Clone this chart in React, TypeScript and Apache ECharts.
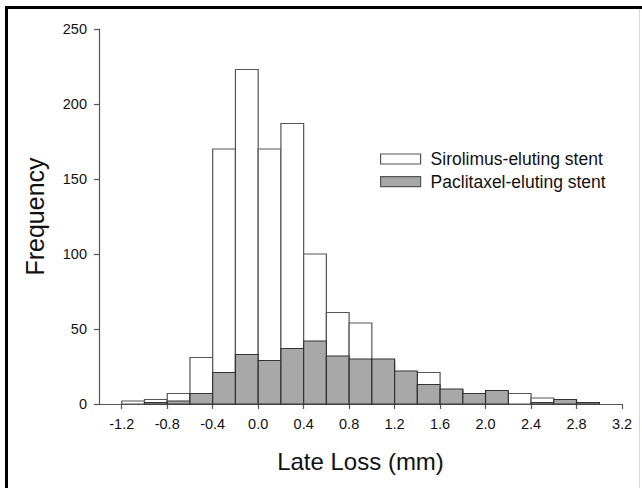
import React, { useEffect, useRef } from "react";
import * as echarts from "echarts";

// Histogram bins (left edge, width 0.2 mm)
const binStarts = [-1.2, -1.0, -0.8, -0.6, -0.4, -0.2, 0.0, 0.2, 0.4, 0.6, 0.8, 1.0, 1.2, 1.4, 1.6, 1.8, 2.0, 2.2, 2.4, 2.6, 2.8, 3.0];
const binEnds = [-1.0, -0.8, -0.6, -0.4, -0.2, 0.0, 0.2, 0.4, 0.6, 0.8, 1.0, 1.2, 1.4, 1.6, 1.8, 2.0, 2.2, 2.4, 2.6, 2.8, 3.0, 3.2];
const sirolimus = [2, 3, 7, 31, 170, 223, 170, 187, 100, 61, 54, 28, 20, 21, 9, 6, 8, 7, 4, 2, 1, 0];
const paclitaxel = [0, 1, 2, 7, 21, 33, 29, 37, 42, 32, 30, 30, 22, 13, 10, 7, 9, 0, 1, 3, 1, 0];
const xTicks = [-1.2, -0.8, -0.4, 0.0, 0.4, 0.8, 1.2, 1.6, 2.0, 2.4, 2.8, 3.2];
const seriesNames = ["Sirolimus-eluting stent", "Paclitaxel-eluting stent"];

const FONT = "Arial, 'Liberation Sans', Helvetica, sans-serif";

function makeData(values: number[]) {
  return values.map((v, i) => [binStarts[i], binEnds[i], v]);
}

function barRenderer(fill: string, stroke: string) {
  return (_params: any, api: any) => {
    const x0 = api.value(0);
    const x1 = api.value(1);
    const v = api.value(2);
    if (!v) return null;
    const p0 = api.coord([x0, v]);
    const p1 = api.coord([x1, 0]);
    return {
      type: "rect",
      shape: { x: p0[0], y: p0[1], width: p1[0] - p0[0], height: p1[1] - p0[1] },
      style: { fill, stroke, lineWidth: 1.2 },
    };
  };
}

export default function App() {
  const ref = useRef<HTMLDivElement>(null);
  useEffect(() => {
    if (!ref.current) return;
    const chart = echarts.init(ref.current, null, { renderer: "svg" });
    chart.setOption({
      animation: false,
      backgroundColor: "#ffffff",
      grid: { left: 99, right: 20, top: 29, bottom: 84 },
      legend: {
        orient: "vertical",
        left: 380,
        top: 149,
        padding: 0,
        itemWidth: 40,
        itemHeight: 10,
        itemGap: 2.7,
        selectedMode: false,
        textStyle: { fontSize: 17.5, fontFamily: FONT, color: "#111", lineHeight: 20, padding: [0, 0, 0, 5] },
        data: [
          { name: seriesNames[0], icon: "rect", itemStyle: { color: "#ffffff", borderColor: "#555", borderWidth: 1.2 } },
          { name: seriesNames[1], icon: "rect", itemStyle: { color: "#a8a8a8", borderColor: "#555", borderWidth: 1.2 } },
        ],
      },
      xAxis: {
        type: "value",
        min: -1.4,
        max: 3.2,
        name: "Late Loss (mm)",
        nameLocation: "middle",
        nameGap: 45,
        nameTextStyle: { fontSize: 24, fontFamily: FONT, color: "#111" },
        axisLine: { onZero: false, lineStyle: { color: "#555", width: 1.2 } },
        axisTick: { show: true, length: 5, customValues: xTicks, lineStyle: { color: "#555", width: 1.2 } },
        axisLabel: {
          customValues: xTicks,
          margin: 12,
          fontSize: 14.5,
          fontFamily: FONT,
          color: "#111",
          formatter: (v: number) => v.toFixed(1),
        },
        splitLine: { show: false },
      },
      yAxis: {
        type: "value",
        min: 0,
        max: 250,
        interval: 50,
        name: "Frequency",
        nameLocation: "middle",
        nameGap: 52,
        nameTextStyle: { fontSize: 25, fontFamily: FONT, color: "#111" },
        axisLine: { show: true, onZero: false, lineStyle: { color: "#555", width: 1.2 } },
        axisTick: { show: true, length: 5, lineStyle: { color: "#555", width: 1.2 } },
        axisLabel: { margin: 12, fontSize: 14.5, fontFamily: FONT, color: "#111" },
        splitLine: { show: false },
      },
      series: [
        {
          name: seriesNames[0],
          type: "custom",
          renderItem: barRenderer("#ffffff", "#555555"),
          encode: { x: [0, 1], y: 2 },
          itemStyle: { color: "#ffffff" },
          data: makeData(sirolimus),
          z: 2,
        },
        {
          name: seriesNames[1],
          type: "custom",
          renderItem: barRenderer("#a8a8a8", "#333333"),
          encode: { x: [0, 1], y: 2 },
          itemStyle: { color: "#a8a8a8" },
          data: makeData(paclitaxel),
          z: 3,
        },
      ],
      graphic: [
        {
          type: "rect",
          silent: true,
          z: 100,
          shape: { x: 6.5, y: 7.5, width: 700, height: 600 },
          style: { fill: "none", stroke: "#000", lineWidth: 3 },
        },
        {
          type: "line",
          silent: true,
          z: 100,
          shape: { x1: 639.5, y1: 9, x2: 639.5, y2: 488 },
          style: { stroke: "#d8d8d8", lineWidth: 1 },
        },
      ],
    });
    return () => chart.dispose();
  }, []);
  return (
    <div
      ref={ref}
      style={{ position: "fixed", left: 0, top: 0, width: 642, height: 488, background: "#fff" }}
    />
  );
}
